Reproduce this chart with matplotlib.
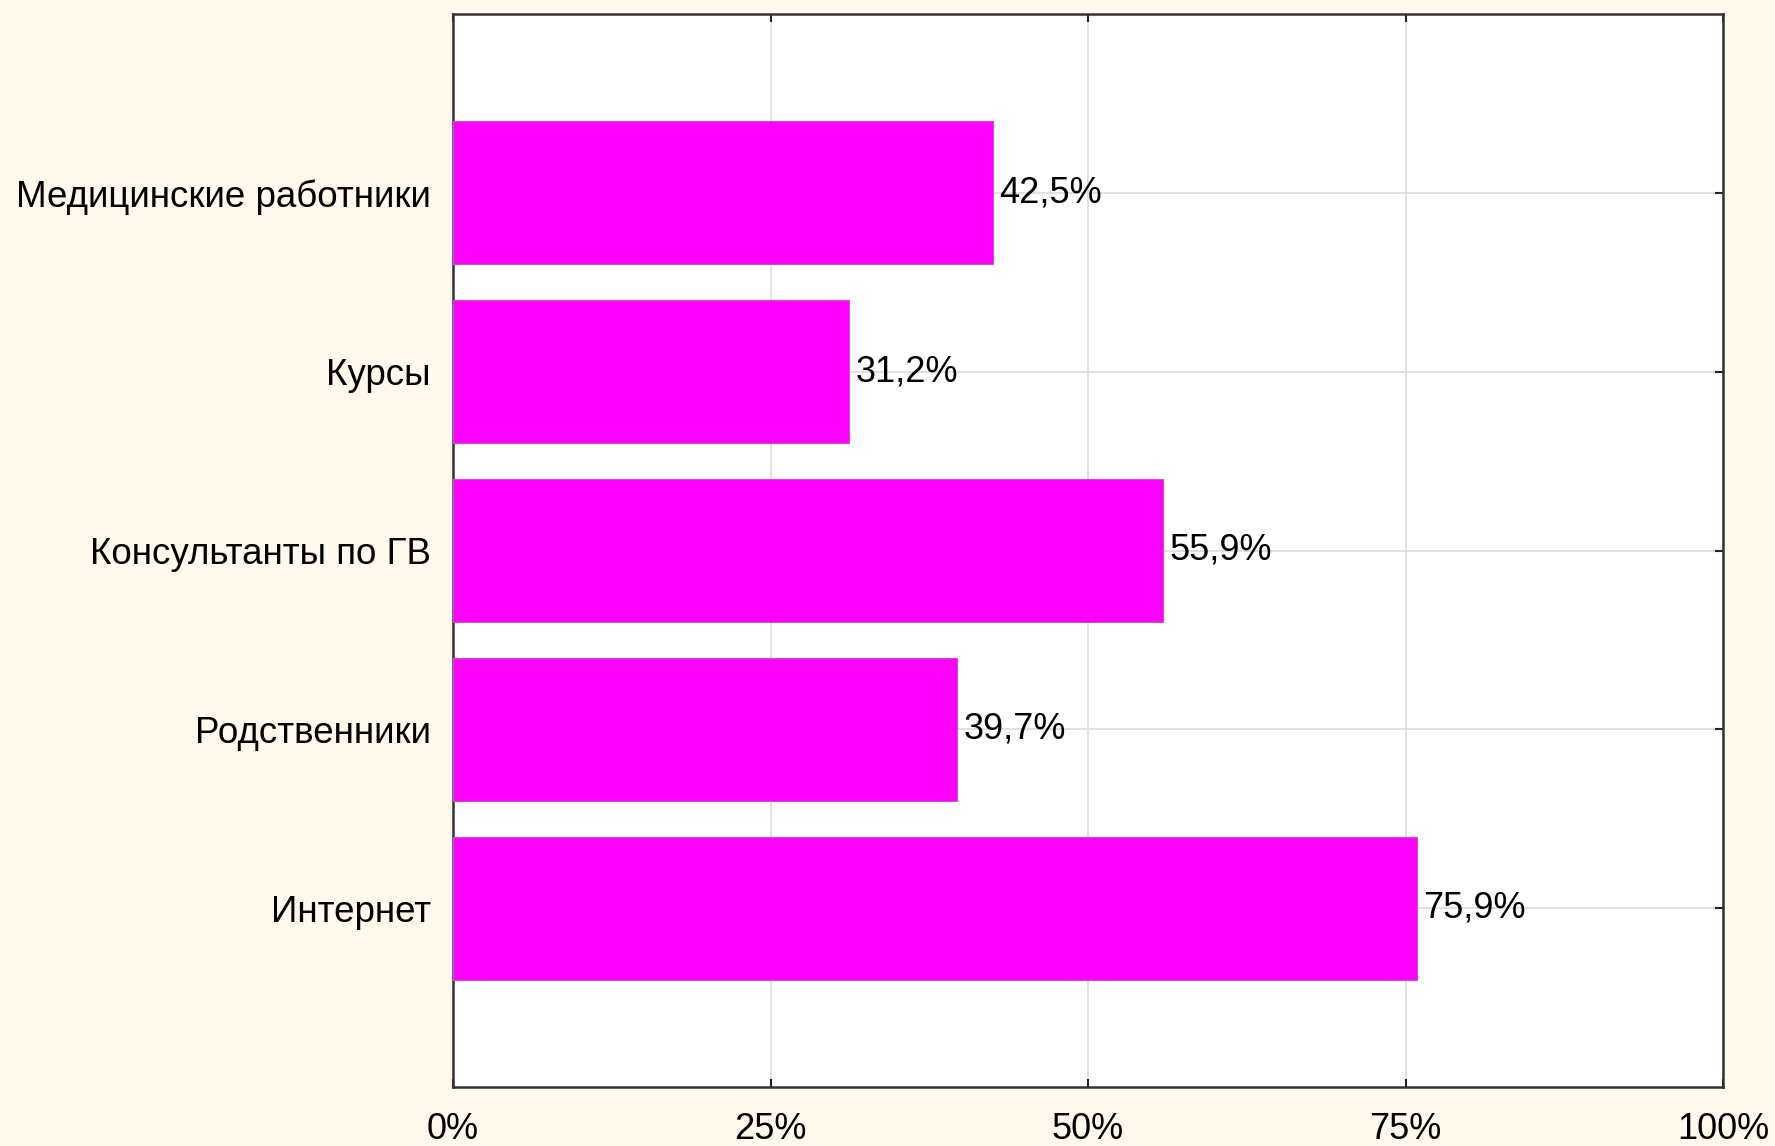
import matplotlib
matplotlib.use("Agg")
import matplotlib.pyplot as plt

categories = ["Интернет", "Родственники", "Консультанты по ГВ", "Курсы", "Медицинские работники"]
values = [75.9, 39.7, 55.9, 31.2, 42.5]
value_labels = ["75,9%", "39,7%", "55,9%", "31,2%", "42,5%"]
xticks = [0, 25, 50, 75, 100]
xtick_labels = ["0%", "25%", "50%", "75%", "100%"]

plt.rcParams['font.family'] = ['Liberation Sans', 'DejaVu Sans']

W, H = 1775, 1146
fig = plt.figure(figsize=(W / 100, H / 100), dpi=100)
fig.patch.set_facecolor('#FFF9ED')
ax = fig.add_axes([453 / W, (H - 1087) / H, (1723 - 453) / W, (1087 - 14) / H])
ax.set_facecolor('white')

ypos = list(range(len(categories)))
ax.barh(ypos, values, height=0.8, color='#FF00FF', edgecolor='#C850C8', linewidth=0.8, zorder=3)

for y, v, lab in zip(ypos, values, value_labels):
    ax.text(v + 0.5, y, lab, va='center', ha='left', fontsize=26, color='black', zorder=4)

ax.set_xlim(0, 100)
ax.set_ylim(-1, 5)
ax.set_xticks(xticks)
ax.set_xticklabels(xtick_labels, fontsize=26)
ax.set_yticks(ypos)
ax.set_yticklabels(categories, fontsize=26.5)

ax.grid(True, color='#DCDCDC', linewidth=1.2, zorder=0)
ax.set_axisbelow(True)

ax.tick_params(axis='both', direction='in', length=6, width=1.5, color='#222222',
               top=True, right=True)
ax.tick_params(axis='x', pad=18)
ax.tick_params(axis='y', pad=16)

for s in ax.spines.values():
    s.set_linewidth(1.8)
    s.set_color('#333333')

fig.savefig('out.png', dpi=100, facecolor=fig.get_facecolor())
